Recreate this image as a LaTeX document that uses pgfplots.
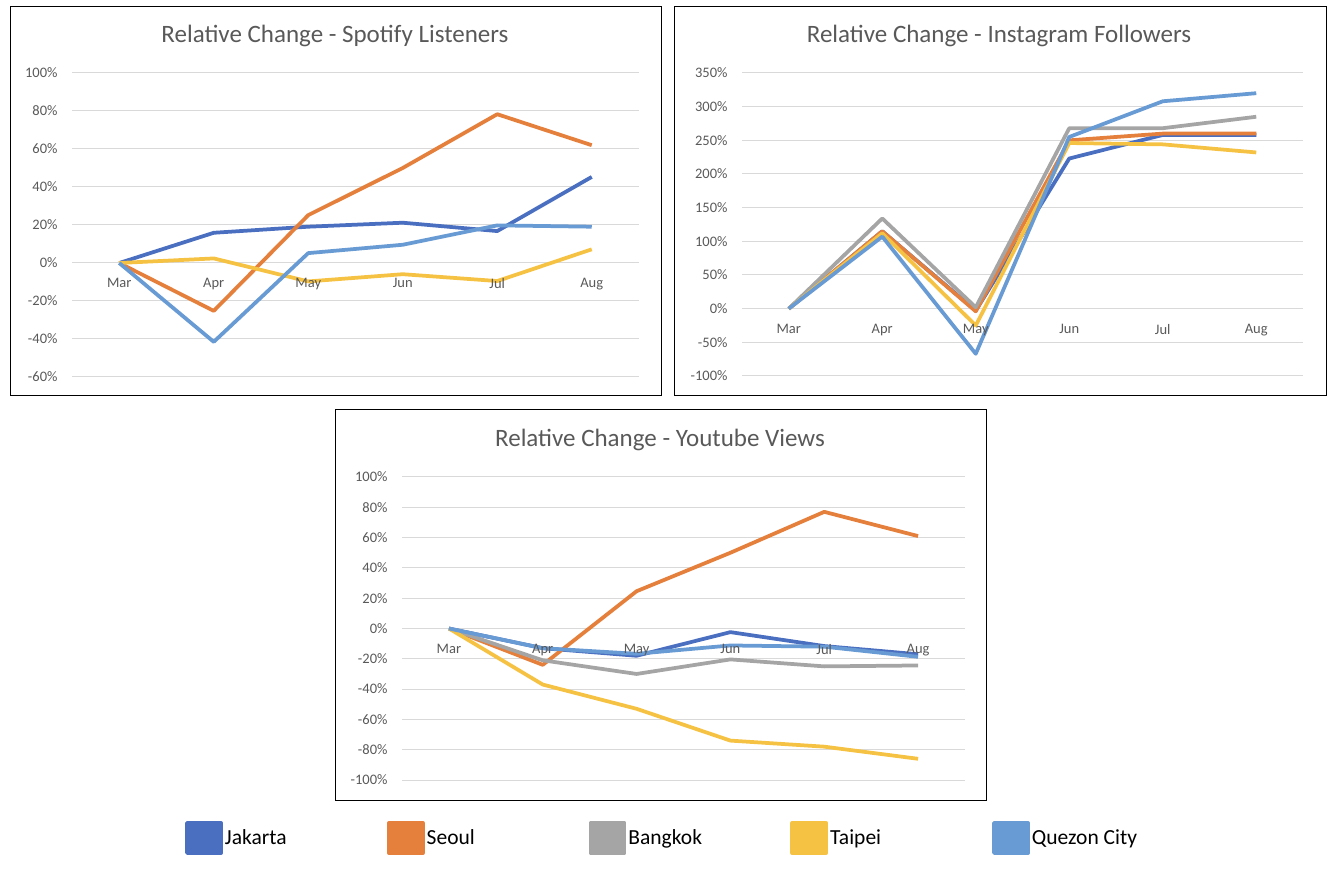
\documentclass[border=0pt]{standalone}
\usepackage{pgfplots}
\pgfplotsset{compat=1.18}
\usepackage{fontspec}
\setmainfont{Carlito}
\definecolor{jak}{HTML}{4A6FC0}
\definecolor{seo}{HTML}{E47F3C}
\definecolor{ban}{HTML}{A5A5A5}
\definecolor{tai}{HTML}{F6C243}
\definecolor{que}{HTML}{689AD3}
\definecolor{gridc}{HTML}{D9D9D9}
\definecolor{txt}{HTML}{595959}
\pgfplotsset{
  rc/.style={
    scale only axis,
    anchor=south west,
    xmin=-0.5, xmax=5.5,
    xtick={0,1,2,3,4,5},
    xticklabels={},
    axis x line=middle,
    axis y line=left,
    x axis line style={draw=gridc, line width=1pt, -},
    y axis line style={draw=none},
    ymajorgrids,
    grid style={draw=gridc, line width=1pt},
    major tick length=0pt,
    tick style={draw=none},
    /pgf/number format/assume math mode=true,
    ticklabel style={font=\fontsize{14.5}{16}\selectfont, text=txt},
    xticklabel style={yshift=-12pt},
    yticklabel style={xshift=-11pt},
    yticklabel={\pgfmathprintnumber[assume math mode=true]{\tick}\%},
    hide obscured x ticks=false,
    hide obscured y ticks=false,
    clip=false,
    every axis plot/.append style={line width=3.75pt, no marks, line join=round},
  },
  lbl/.style={
    rc,
    ymajorgrids=false,
    x axis line style={draw=none},
    ytick=\empty,
    xticklabels={Mar,Apr,May,Jun,Jul,Aug},
  }
}
\begin{document}
\begin{tikzpicture}[x=1pt,y=1pt]
\useasboundingbox (0,0) rectangle (1336,876);
% frames
\draw[line width=1pt, black] (10,869) rectangle (661,480);
\draw[line width=1pt, black] (674,869) rectangle (1326,480);
\draw[line width=1pt, black] (335,466) rectangle (986,76);
% titles
\node[text=txt, font=\fontsize{25}{28}\selectfont] at (335,840) {Relative Change - Spotify Listeners};
\node[text=txt, font=\fontsize{25}{28}\selectfont] at (999,840) {Relative Change - Instagram Followers};
\node[text=txt, font=\fontsize{25}{28}\selectfont] at (660,436) {Relative Change - Youtube Views};

% Spotify
\begin{axis}[rc, at={(72pt,499pt)}, width=567pt, height=304pt,
  ymin=-60, ymax=100, ytick={-60,-40,...,100}]
\addplot[color=jak] coordinates {(0,0) (1,15.9) (2,19.1) (3,21.2) (4,16.8) (5,45.3)};
\addplot[color=seo] coordinates {(0,0) (1,-25.2) (2,25.2) (3,50.0) (4,78.3) (5,62.0)};
\addplot[color=tai] coordinates {(0,0) (1,2.4) (2,-9.7) (3,-5.9) (4,-9.5) (5,7.2)};
\addplot[color=que] coordinates {(0,0) (1,-41.5) (2,5.2) (3,9.6) (4,19.8) (5,19.1)};
\end{axis}
\begin{axis}[lbl, at={(72pt,499pt)}, width=567pt, height=304pt,
  ymin=-60, ymax=100]
\end{axis}

% Instagram
\begin{axis}[rc, at={(742pt,500pt)}, width=561pt, height=303pt,
  ymin=-100, ymax=350, ytick={-100,-50,...,350}]
\addplot[color=jak] coordinates {(0,0) (1,115) (2,-3) (3,223) (4,258) (5,258)};
\addplot[color=seo] coordinates {(0,0) (1,115) (2,-4) (3,250) (4,260) (5,260)};
\addplot[color=ban] coordinates {(0,0) (1,134) (2,2) (3,268) (4,268) (5,285)};
\addplot[color=tai] coordinates {(0,0) (1,112) (2,-25) (3,246) (4,244) (5,232)};
\addplot[color=que] coordinates {(0,0) (1,107) (2,-67) (3,255) (4,308) (5,320)};
\end{axis}
\begin{axis}[lbl, at={(742pt,500pt)}, width=561pt, height=303pt,
  ymin=-100, ymax=350]
\end{axis}

% Youtube
\begin{axis}[rc, at={(402pt,96pt)}, width=563pt, height=303pt,
  ymin=-100, ymax=100, ytick={-100,-80,...,100},
  legend columns=5,
  legend style={at={(-217pt,-58pt)}, anchor=west, draw=none, fill=none,
    inner sep=0pt, font=\fontsize{21.5}{24}\selectfont,
    /tikz/every even column/.append style={column sep=0pt}},
  legend cell align=left,
  legend image code/.code={\fill[#1] (0pt,-15pt) rectangle (34pt,15pt);},
]
\addplot[color=jak] coordinates {(0,0) (1,-13) (2,-18) (3,-2.4) (4,-11.6) (5,-17)};
\addplot[color=seo] coordinates {(0,0) (1,-24) (2,24.6) (3,50) (4,77) (5,61)};
\addplot[color=ban] coordinates {(0,0) (1,-21) (2,-30) (3,-20.4) (4,-25) (5,-24.4)};
\addplot[color=tai] coordinates {(0,0) (1,-37) (2,-53) (3,-74) (4,-78) (5,-86)};
\addplot[color=que] coordinates {(0,0) (1,-13) (2,-16.7) (3,-11.2) (4,-12) (5,-18.7)};
\legend{\makebox[160pt][l]{Jakarta},\makebox[160pt][l]{Seoul},\makebox[160pt][l]{Bangkok},\makebox[160pt][l]{Taipei},Quezon City}
\end{axis}
\begin{axis}[lbl, at={(402pt,96pt)}, width=563pt, height=303pt,
  ymin=-100, ymax=100]
\end{axis}
\end{tikzpicture}
\end{document}
